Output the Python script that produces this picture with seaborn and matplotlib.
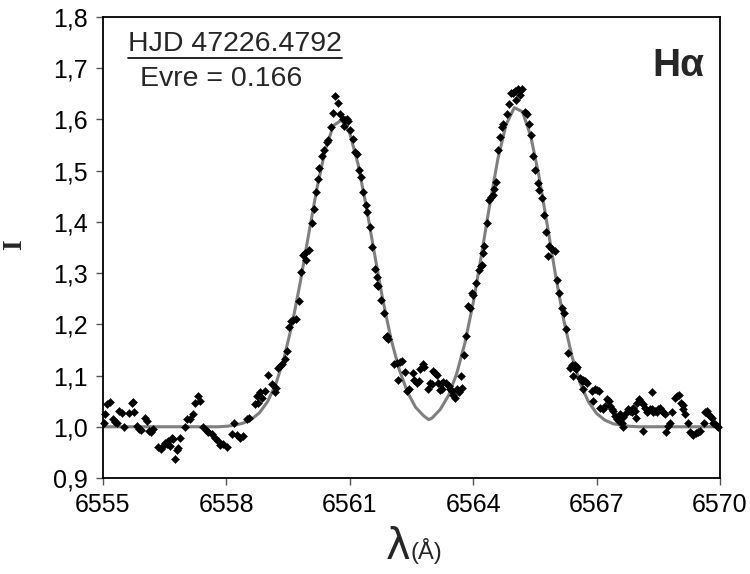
import matplotlib
matplotlib.use("Agg")
import matplotlib.pyplot as plt
from matplotlib.ticker import FuncFormatter, FixedLocator
import seaborn as sns
import pandas as pd

# fitted profile (gray line)
curve_x = [6555.0, 6557.8, 6558.0, 6558.2, 6558.4, 6558.6, 6558.8, 6559.0, 6559.2, 6559.4,
           6559.6, 6559.8, 6560.0, 6560.2, 6560.4, 6560.6, 6560.8, 6561.0, 6561.2, 6561.4,
           6561.6, 6561.8, 6562.0, 6562.2, 6562.4, 6562.6, 6562.8, 6562.92, 6563.0, 6563.2,
           6563.4, 6563.6, 6563.8, 6564.0, 6564.2, 6564.4, 6564.6, 6564.8, 6565.0, 6565.2,
           6565.4, 6565.6, 6565.8, 6566.0, 6566.2, 6566.4, 6566.6, 6566.8, 6567.0, 6567.2,
           6567.4, 6567.6, 6567.8, 6568.0, 6570.0]
curve_y = [1.000, 1.000, 1.001, 1.003, 1.007, 1.014, 1.027, 1.049, 1.083, 1.134,
           1.201, 1.284, 1.376, 1.465, 1.540, 1.588, 1.599, 1.573, 1.513, 1.430,
           1.338, 1.249, 1.172, 1.112, 1.068, 1.038, 1.021, 1.014, 1.017, 1.034,
           1.061, 1.104, 1.164, 1.242, 1.335, 1.433, 1.523, 1.590, 1.623, 1.615,
           1.567, 1.489, 1.394, 1.297, 1.209, 1.138, 1.085, 1.049, 1.026, 1.013,
           1.006, 1.003, 1.001, 1.000, 1.000]

# observed spectrum (black diamonds)
obs_x = [6555.02, 6555.05, 6555.10, 6555.17, 6555.25, 6555.29, 6555.33, 6555.40, 6555.45, 6555.51,
         6555.64, 6555.70, 6555.72, 6555.76, 6555.82, 6555.88, 6555.92, 6556.02, 6556.06, 6556.13,
         6556.16, 6556.22, 6556.34, 6556.41, 6556.47, 6556.51, 6556.55, 6556.59, 6556.63, 6556.67,
         6556.71, 6556.75, 6556.81, 6556.83, 6556.87, 6556.99, 6557.05, 6557.12, 6557.20, 6557.24,
         6557.32, 6557.36, 6557.44, 6557.52, 6557.56, 6557.64, 6557.72, 6557.80, 6557.84, 6557.92,
         6558.01, 6558.13, 6558.19, 6558.25, 6558.33, 6558.41, 6558.49, 6558.55, 6558.70, 6558.74,
         6558.78, 6558.82, 6558.87, 6558.94, 6559.02, 6559.12, 6559.18, 6559.20, 6559.26, 6559.30,
         6559.34, 6559.42, 6559.48, 6559.53, 6559.56, 6559.61, 6559.69, 6559.77, 6559.81, 6559.87,
         6559.91, 6559.94, 6560.02, 6560.07, 6560.13, 6560.17, 6560.22, 6560.26, 6560.32, 6560.38,
         6560.44, 6560.48, 6560.54, 6560.58, 6560.64, 6560.71, 6560.76, 6560.83, 6560.86, 6560.88,
         6560.94, 6560.96, 6561.01, 6561.07, 6561.13, 6561.18, 6561.22, 6561.27, 6561.33, 6561.39,
         6561.43, 6561.49, 6561.54, 6561.61, 6561.65, 6561.67, 6561.69, 6561.76, 6561.82, 6561.88,
         6561.91, 6561.94, 6562.08, 6562.14, 6562.16, 6562.22, 6562.28, 6562.33, 6562.40, 6562.45,
         6562.53, 6562.57, 6562.63, 6562.68, 6562.71, 6562.77, 6562.81, 6562.91, 6562.95, 6562.99,
         6563.02, 6563.07, 6563.11, 6563.15, 6563.19, 6563.21, 6563.23, 6563.27, 6563.34, 6563.40,
         6563.44, 6563.48, 6563.52, 6563.56, 6563.61, 6563.66, 6563.70, 6563.72, 6563.78, 6563.83,
         6563.88, 6563.92, 6563.96, 6564.00, 6564.07, 6564.15, 6564.18, 6564.21, 6564.23, 6564.26,
         6564.34, 6564.39, 6564.43, 6564.47, 6564.51, 6564.56, 6564.61, 6564.65, 6564.69, 6564.73,
         6564.82, 6564.88, 6564.91, 6564.96, 6565.02, 6565.03, 6565.10, 6565.14, 6565.18, 6565.26,
         6565.32, 6565.36, 6565.40, 6565.45, 6565.50, 6565.57, 6565.61, 6565.67, 6565.72, 6565.77,
         6565.83, 6565.85, 6565.91, 6565.99, 6566.03, 6566.08, 6566.15, 6566.21, 6566.26, 6566.31,
         6566.35, 6566.40, 6566.42, 6566.45, 6566.48, 6566.50, 6566.53, 6566.60, 6566.64, 6566.66,
         6566.68, 6566.72, 6566.76, 6566.88, 6566.91, 6566.96, 6567.02, 6567.07, 6567.08, 6567.15,
         6567.21, 6567.25, 6567.29, 6567.33, 6567.37, 6567.41, 6567.45, 6567.49, 6567.55, 6567.57,
         6567.61, 6567.64, 6567.65, 6567.72, 6567.77, 6567.81, 6567.85, 6567.89, 6567.93, 6567.96,
         6567.98, 6568.02, 6568.06, 6568.12, 6568.14, 6568.18, 6568.22, 6568.26, 6568.30, 6568.34,
         6568.35, 6568.38, 6568.42, 6568.46, 6568.50, 6568.54, 6568.58, 6568.62, 6568.66, 6568.69,
         6568.74, 6568.79, 6568.83, 6568.91, 6568.96, 6569.01, 6569.05, 6569.09, 6569.11, 6569.15,
         6569.23, 6569.27, 6569.31, 6569.35, 6569.42, 6569.47, 6569.52, 6569.60, 6569.64, 6569.68,
         6569.72, 6569.76, 6569.80, 6569.84, 6569.88, 6569.92, 6569.96]
obs_y = [1.008, 1.024, 1.044, 1.048, 1.016, 1.009, 1.008, 1.031, 1.026, 1.000,
         1.026, 1.047, 1.048, 1.028, 1.002, 0.995, 0.994, 1.018, 1.011, 0.992,
         0.989, 0.995, 0.960, 0.956, 0.963, 0.969, 0.966, 0.973, 0.963, 0.979,
         0.976, 0.937, 0.955, 0.958, 0.979, 0.999, 1.016, 1.015, 1.024, 1.047,
         1.060, 1.050, 0.999, 0.992, 0.989, 0.986, 0.979, 0.973, 0.964, 0.966,
         0.960, 0.986, 1.007, 0.984, 0.979, 0.982, 1.015, 1.018, 1.044, 1.060,
         1.047, 1.067, 1.057, 1.070, 1.102, 1.083, 1.067, 1.076, 1.115, 1.118,
         1.122, 1.133, 1.147, 1.195, 1.206, 1.209, 1.210, 1.245, 1.303, 1.335,
         1.339, 1.326, 1.346, 1.397, 1.426, 1.459, 1.483, 1.506, 1.528, 1.541,
         1.556, 1.560, 1.586, 1.612, 1.645, 1.632, 1.610, 1.601, 1.588, 1.599,
         1.601, 1.597, 1.580, 1.562, 1.536, 1.532, 1.502, 1.488, 1.459, 1.433,
         1.420, 1.390, 1.350, 1.308, 1.293, 1.277, 1.274, 1.248, 1.223, 1.175,
         1.178, 1.172, 1.123, 1.125, 1.091, 1.127, 1.128, 1.107, 1.070, 1.073,
         1.105, 1.092, 1.086, 1.089, 1.112, 1.122, 1.117, 1.073, 1.086, 1.083,
         1.109, 1.105, 1.102, 1.086, 1.072, 1.083, 1.074, 1.087, 1.086, 1.079,
         1.073, 1.070, 1.063, 1.057, 1.074, 1.068, 1.099, 1.076, 1.141, 1.177,
         1.235, 1.232, 1.261, 1.258, 1.280, 1.306, 1.313, 1.316, 1.339, 1.352,
         1.398, 1.442, 1.449, 1.452, 1.465, 1.478, 1.541, 1.565, 1.585, 1.591,
         1.611, 1.630, 1.651, 1.651, 1.656, 1.637, 1.660, 1.647, 1.660, 1.614,
         1.611, 1.591, 1.569, 1.528, 1.502, 1.476, 1.463, 1.446, 1.413, 1.381,
         1.333, 1.353, 1.348, 1.344, 1.287, 1.262, 1.232, 1.222, 1.191, 1.144,
         1.115, 1.120, 1.099, 1.117, 1.120, 1.113, 1.117, 1.096, 1.089, 1.073,
         1.092, 1.089, 1.085, 1.070, 1.050, 1.073, 1.072, 1.070, 1.037, 1.034,
         1.041, 1.054, 1.050, 1.041, 1.034, 1.031, 1.021, 1.015, 1.011, 1.024,
         1.008, 1.020, 0.999, 1.026, 1.034, 1.031, 1.028, 1.037, 1.031, 1.018,
         1.047, 1.054, 1.050, 1.044, 0.992, 1.037, 1.028, 1.031, 1.034, 1.034,
         1.068, 1.028, 1.031, 1.028, 1.034, 1.037, 1.031, 1.028, 1.024, 0.990,
         1.002, 1.008, 1.028, 1.057, 1.061, 1.063, 1.046, 1.042, 1.034, 1.024,
         1.008, 0.989, 0.986, 0.984, 0.987, 0.989, 0.992, 1.008, 1.028, 1.031,
         1.024, 1.021, 1.018, 1.008, 1.005, 1.002, 0.999]

x_ticks = [6555, 6558, 6561, 6564, 6567, 6570]
y_ticks = [0.9, 1.0, 1.1, 1.2, 1.3, 1.4, 1.5, 1.6, 1.7, 1.8]

sns.set_theme(style="white")
plt.rcParams["font.family"] = ["Liberation Sans", "DejaVu Sans"]

fig = plt.figure(figsize=(7.5, 5.74), dpi=100)
ax = fig.add_axes([103 / 750, 1 - 478 / 574, 617 / 750, 461 / 574])

curve_df = pd.DataFrame({"x": curve_x, "y": curve_y})
obs_df = pd.DataFrame({"x": obs_x, "y": obs_y})

sns.lineplot(data=curve_df, x="x", y="y", ax=ax, color="#7f7f7f", linewidth=2.2,
             estimator=None, sort=False, zorder=2)
sns.scatterplot(data=obs_df, x="x", y="y", ax=ax, marker="D", s=17, color="black",
                edgecolor="black", linewidth=0.3, zorder=3, clip_on=False)

ax.set_xlim(6555, 6570)
ax.set_ylim(0.9, 1.8)
ax.xaxis.set_major_locator(FixedLocator(x_ticks))
ax.yaxis.set_major_locator(FixedLocator(y_ticks))
ax.yaxis.set_major_formatter(FuncFormatter(lambda v, p: f"{v:.1f}".replace(".", ",")))
ax.tick_params(axis="both", direction="out", length=5, width=1, color="#555555",
               labelsize=18, pad=6, bottom=True, left=True, labelcolor="black")
for sp in ax.spines.values():
    sp.set_color("black")
    sp.set_linewidth(1.3)
ax.set_xlabel("")
ax.set_ylabel("")

# axis titles
fig.text(15 / 750, 1 - 245 / 574, "I", rotation=90, ha="center", va="center",
         fontsize=20, fontweight="bold", family=["Liberation Serif", "DejaVu Serif"])
fig.text(410 / 750, 1 - 559 / 574, "λ", ha="right", va="baseline", fontsize=30,
         family=["DejaVu Sans"])
fig.text(410 / 750, 1 - 559 / 574, "(Å)", ha="left", va="baseline", fontsize=17)

# annotations
t_hjd = ax.text(0.04, 0.927, "HJD 47226.4792", transform=ax.transAxes, fontsize=20.5,
                ha="left", va="baseline")
ax.text(0.06, 0.85, "Evre = 0.166", transform=ax.transAxes, fontsize=20.5,
        ha="left", va="baseline")
ax.text(0.975, 0.872, "Hα", transform=ax.transAxes, fontsize=28, fontweight="bold",
        ha="right", va="baseline")

fig.canvas.draw()
bb = t_hjd.get_window_extent(renderer=fig.canvas.get_renderer())
inv = ax.transAxes.inverted()
(x0, y0), (x1, y1) = inv.transform([[bb.x0, bb.y0], [bb.x1, bb.y0]])
ax.plot([x0, x1], [y0 - 0.002, y0 - 0.002], transform=ax.transAxes, color="black",
        linewidth=1.2, clip_on=False)

fig.savefig("out.png", dpi=100, facecolor="white")
